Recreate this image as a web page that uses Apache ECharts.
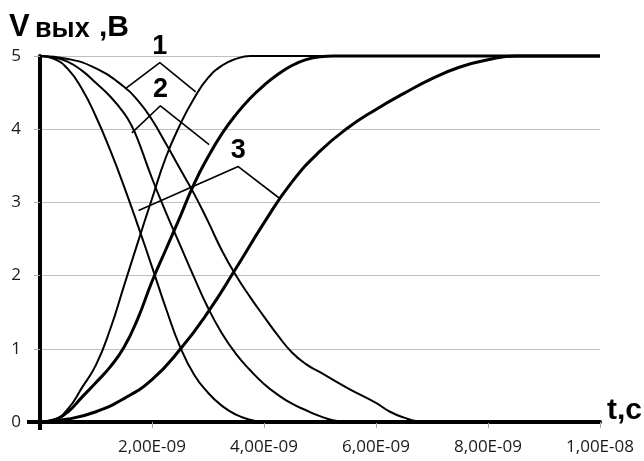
<!DOCTYPE html>
<html>
<head>
<meta charset="utf-8">
<script src="https://cdn.jsdelivr.net/npm/echarts@6/dist/echarts.min.js"></script>
<style>
html, body { margin: 0; padding: 0; background: #fff; }
#chart { width: 644px; height: 461px; }
</style>
</head>
<body>
<div id="chart"></div>
<script>
// time in ns, voltage in V
var fall1T = [0, 0.25, 0.5, 0.75, 1.0, 1.25, 1.5, 1.75, 2.0, 2.25, 2.5, 2.75, 3.0, 3.25, 3.5, 3.75, 4.0, 4.5, 10];
var fall1V = [5, 4.96, 4.82, 4.55, 4.17, 3.72, 3.22, 2.68, 2.12, 1.55, 1.03, 0.65, 0.4, 0.22, 0.1, 0.03, 0, 0, 0];

var fall2T = [0, 0.25, 0.5, 0.75, 1.0, 1.25, 1.5, 1.64, 1.75, 2.0, 2.25, 2.5, 2.75, 3.0, 3.25, 3.5, 3.75, 4.0, 4.25, 4.5, 4.75, 5.0, 5.25, 5.5, 6.0, 10];
var fall2V = [5, 4.98, 4.92, 4.8, 4.63, 4.45, 4.22, 4.04, 3.85, 3.33, 2.86, 2.42, 1.98, 1.56, 1.21, 0.93, 0.71, 0.52, 0.37, 0.25, 0.16, 0.08, 0.02, 0, 0, 0];

var fall3T = [0, 0.5, 1.0, 1.5, 1.75, 2.0, 2.25, 2.5, 2.75, 3.0, 3.25, 3.5, 3.75, 4.0, 4.25, 4.5, 4.75, 5.0, 5.5, 6.0, 6.25, 6.5, 6.75, 7.0, 7.5, 10];
var fall3V = [5, 4.96, 4.83, 4.58, 4.39, 4.13, 3.8, 3.46, 3.12, 2.74, 2.34, 2.0, 1.71, 1.44, 1.18, 0.95, 0.79, 0.68, 0.46, 0.26, 0.14, 0.06, 0.01, 0, 0, 0];

var rise1T = [0, 0.25, 0.5, 0.75, 1.0, 1.25, 1.5, 1.75, 2.0, 2.25, 2.5, 2.75, 3.0, 3.25, 3.5, 3.75, 4.0, 10];
var rise1V = [0, 0.03, 0.18, 0.47, 0.78, 1.26, 1.86, 2.46, 3.05, 3.62, 4.06, 4.42, 4.7, 4.87, 4.96, 5, 5, 5];

var rise2T = [0, 0.25, 0.5, 0.75, 1.0, 1.25, 1.5, 1.75, 2.0, 2.25, 2.5, 2.75, 3.0, 3.25, 3.5, 3.75, 4.0, 4.25, 4.5, 4.75, 5.0, 5.25, 5.75, 10];
var rise2V = [0, 0.03, 0.14, 0.34, 0.54, 0.75, 1.02, 1.42, 1.92, 2.36, 2.8, 3.25, 3.62, 3.94, 4.2, 4.42, 4.6, 4.75, 4.87, 4.95, 4.99, 5, 5, 5];

var rise3T = [0, 0.5, 1.0, 1.5, 2.0, 2.5, 3.0, 3.5, 4.0, 4.5, 5.0, 5.5, 6.0, 6.5, 7.0, 7.5, 8.0, 8.5, 9.0, 10];
var rise3V = [0, 0.04, 0.14, 0.32, 0.58, 0.99, 1.5, 2.1, 2.72, 3.28, 3.7, 4.02, 4.27, 4.49, 4.69, 4.85, 4.95, 5, 5, 5];

// leader lines of the curve labels: left end, apex, right end
var labelNames = ['1', '2', '3'];
var leaderT = [[1.52, 2.14, 2.78], [1.64, 2.15, 3.02], [1.76, 3.54, 4.27]];
var leaderV = [[4.55, 4.91, 4.51], [3.95, 4.32, 3.79], [2.89, 3.49, 3.06]];

var xTicks = [0, 2e-9, 4e-9, 6e-9, 8e-9, 1e-8];
var yTicks = [0, 1, 2, 3, 4, 5];

function pairs(t, v) {
    var out = [];
    for (var i = 0; i < t.length; i++) out.push([t[i] * 1e-9, v[i]]);
    return out;
}

function sciLabel(v) {
    if (v === 0) return '';
    var e = Math.floor(Math.log10(v) + 1e-9);
    var m = v / Math.pow(10, e);
    return m.toFixed(2).replace('.', ',') + 'E-' + ('0' + (-e)).slice(-2);
}

function curve(t, v, w) {
    return {
        type: 'line',
        data: pairs(t, v),
        smooth: 0.5,
        showSymbol: false,
        clip: false,
        silent: true,
        lineStyle: { color: '#000', width: w }
    };
}

var series = [
    curve(fall1T, fall1V, 2),
    curve(fall2T, fall2V, 2),
    curve(fall3T, fall3V, 2),
    curve(rise1T, rise1V, 2),
    curve(rise2T, rise2V, 3),
    curve(rise3T, rise3V, 3)
];

var apexes = [];
for (var k = 0; k < labelNames.length; k++) {
    series.push({
        type: 'line',
        data: pairs(leaderT[k], leaderV[k]),
        showSymbol: false,
        clip: false,
        silent: true,
        lineStyle: { color: '#000', width: 1.6 }
    });
    apexes.push([leaderT[k][1] * 1e-9, leaderV[k][1], labelNames[k]]);
}
series.push({
    type: 'scatter',
    data: apexes,
    symbolSize: 2,
    silent: true,
    itemStyle: { color: 'rgba(0,0,0,0)', opacity: 1 },
    label: {
        show: true,
        position: 'top',
        distance: 3,
        formatter: function (p) { return p.value[2]; },
        color: '#000',
        fontFamily: 'Liberation Sans',
        fontWeight: 'bold',
        fontSize: 27,
        lineHeight: 24
    }
});

// stub axes: only the black tick at the origin, where the axis lines cross
function originStub(base) {
    return Object.assign({
        type: 'value',
        axisLine: { show: false },
        axisLabel: { show: false },
        splitLine: { show: false }
    }, base);
}

var nameFont = 'bold 30px "Liberation Sans"';
var chart = echarts.init(document.getElementById('chart'));
var option = {
    animation: false,
    grid: { left: 40, right: 44, top: 56, bottom: 39 },
    xAxis: [{
        type: 'value',
        min: xTicks[0],
        max: xTicks[xTicks.length - 1],
        interval: xTicks[1] - xTicks[0],
        axisLine: { show: true, lineStyle: { color: '#000', width: 4 } },
        axisTick: { show: true, length: 6, lineStyle: { color: '#a6a6a6', width: 1 } },
        splitLine: { show: false },
        axisLabel: {
            formatter: sciLabel,
            color: '#1a1a1a',
            fontFamily: 'Open Sans',
            fontSize: 17,
            margin: 17
        }
    }, originStub({
        min: xTicks[0],
        max: xTicks[xTicks.length - 1],
        position: 'bottom',
        axisTick: { show: true, length: 8, customValues: [0], lineStyle: { color: '#000', width: 4 } }
    })],
    yAxis: [{
        type: 'value',
        min: yTicks[0],
        max: yTicks[yTicks.length - 1],
        interval: yTicks[1] - yTicks[0],
        axisLine: { show: true, lineStyle: { color: '#000', width: 4 } },
        axisTick: { show: true, length: 6, lineStyle: { color: '#a6a6a6', width: 1 } },
        splitLine: { show: true, lineStyle: { color: '#bfbfbf', width: 1 } },
        axisLabel: {
            color: '#1a1a1a',
            fontFamily: 'Open Sans',
            fontSize: 17,
            margin: 19
        }
    }, originStub({
        min: yTicks[0],
        max: yTicks[yTicks.length - 1],
        position: 'left',
        axisTick: { show: true, length: 13, customValues: [0], lineStyle: { color: '#000', width: 4 } }
    })],
    graphic: [
        { type: 'text', left: 9, top: 12, style: { text: 'V', font: 'bold 31px "Liberation Sans"', fill: '#000' } },
        { type: 'text', left: 35, top: 16, style: { text: 'вых', font: 'bold 27px "Liberation Sans"', fill: '#000' } },
        { type: 'text', left: 99, top: 13, style: { text: ',В', font: nameFont, fill: '#000' } },
        { type: 'text', left: 607, top: 396, style: { text: 't,c', font: nameFont, fill: '#000' } }
    ],
    series: series
};
chart.setOption(option);
window.onresize = chart.resize;
</script>
</body>
</html>
